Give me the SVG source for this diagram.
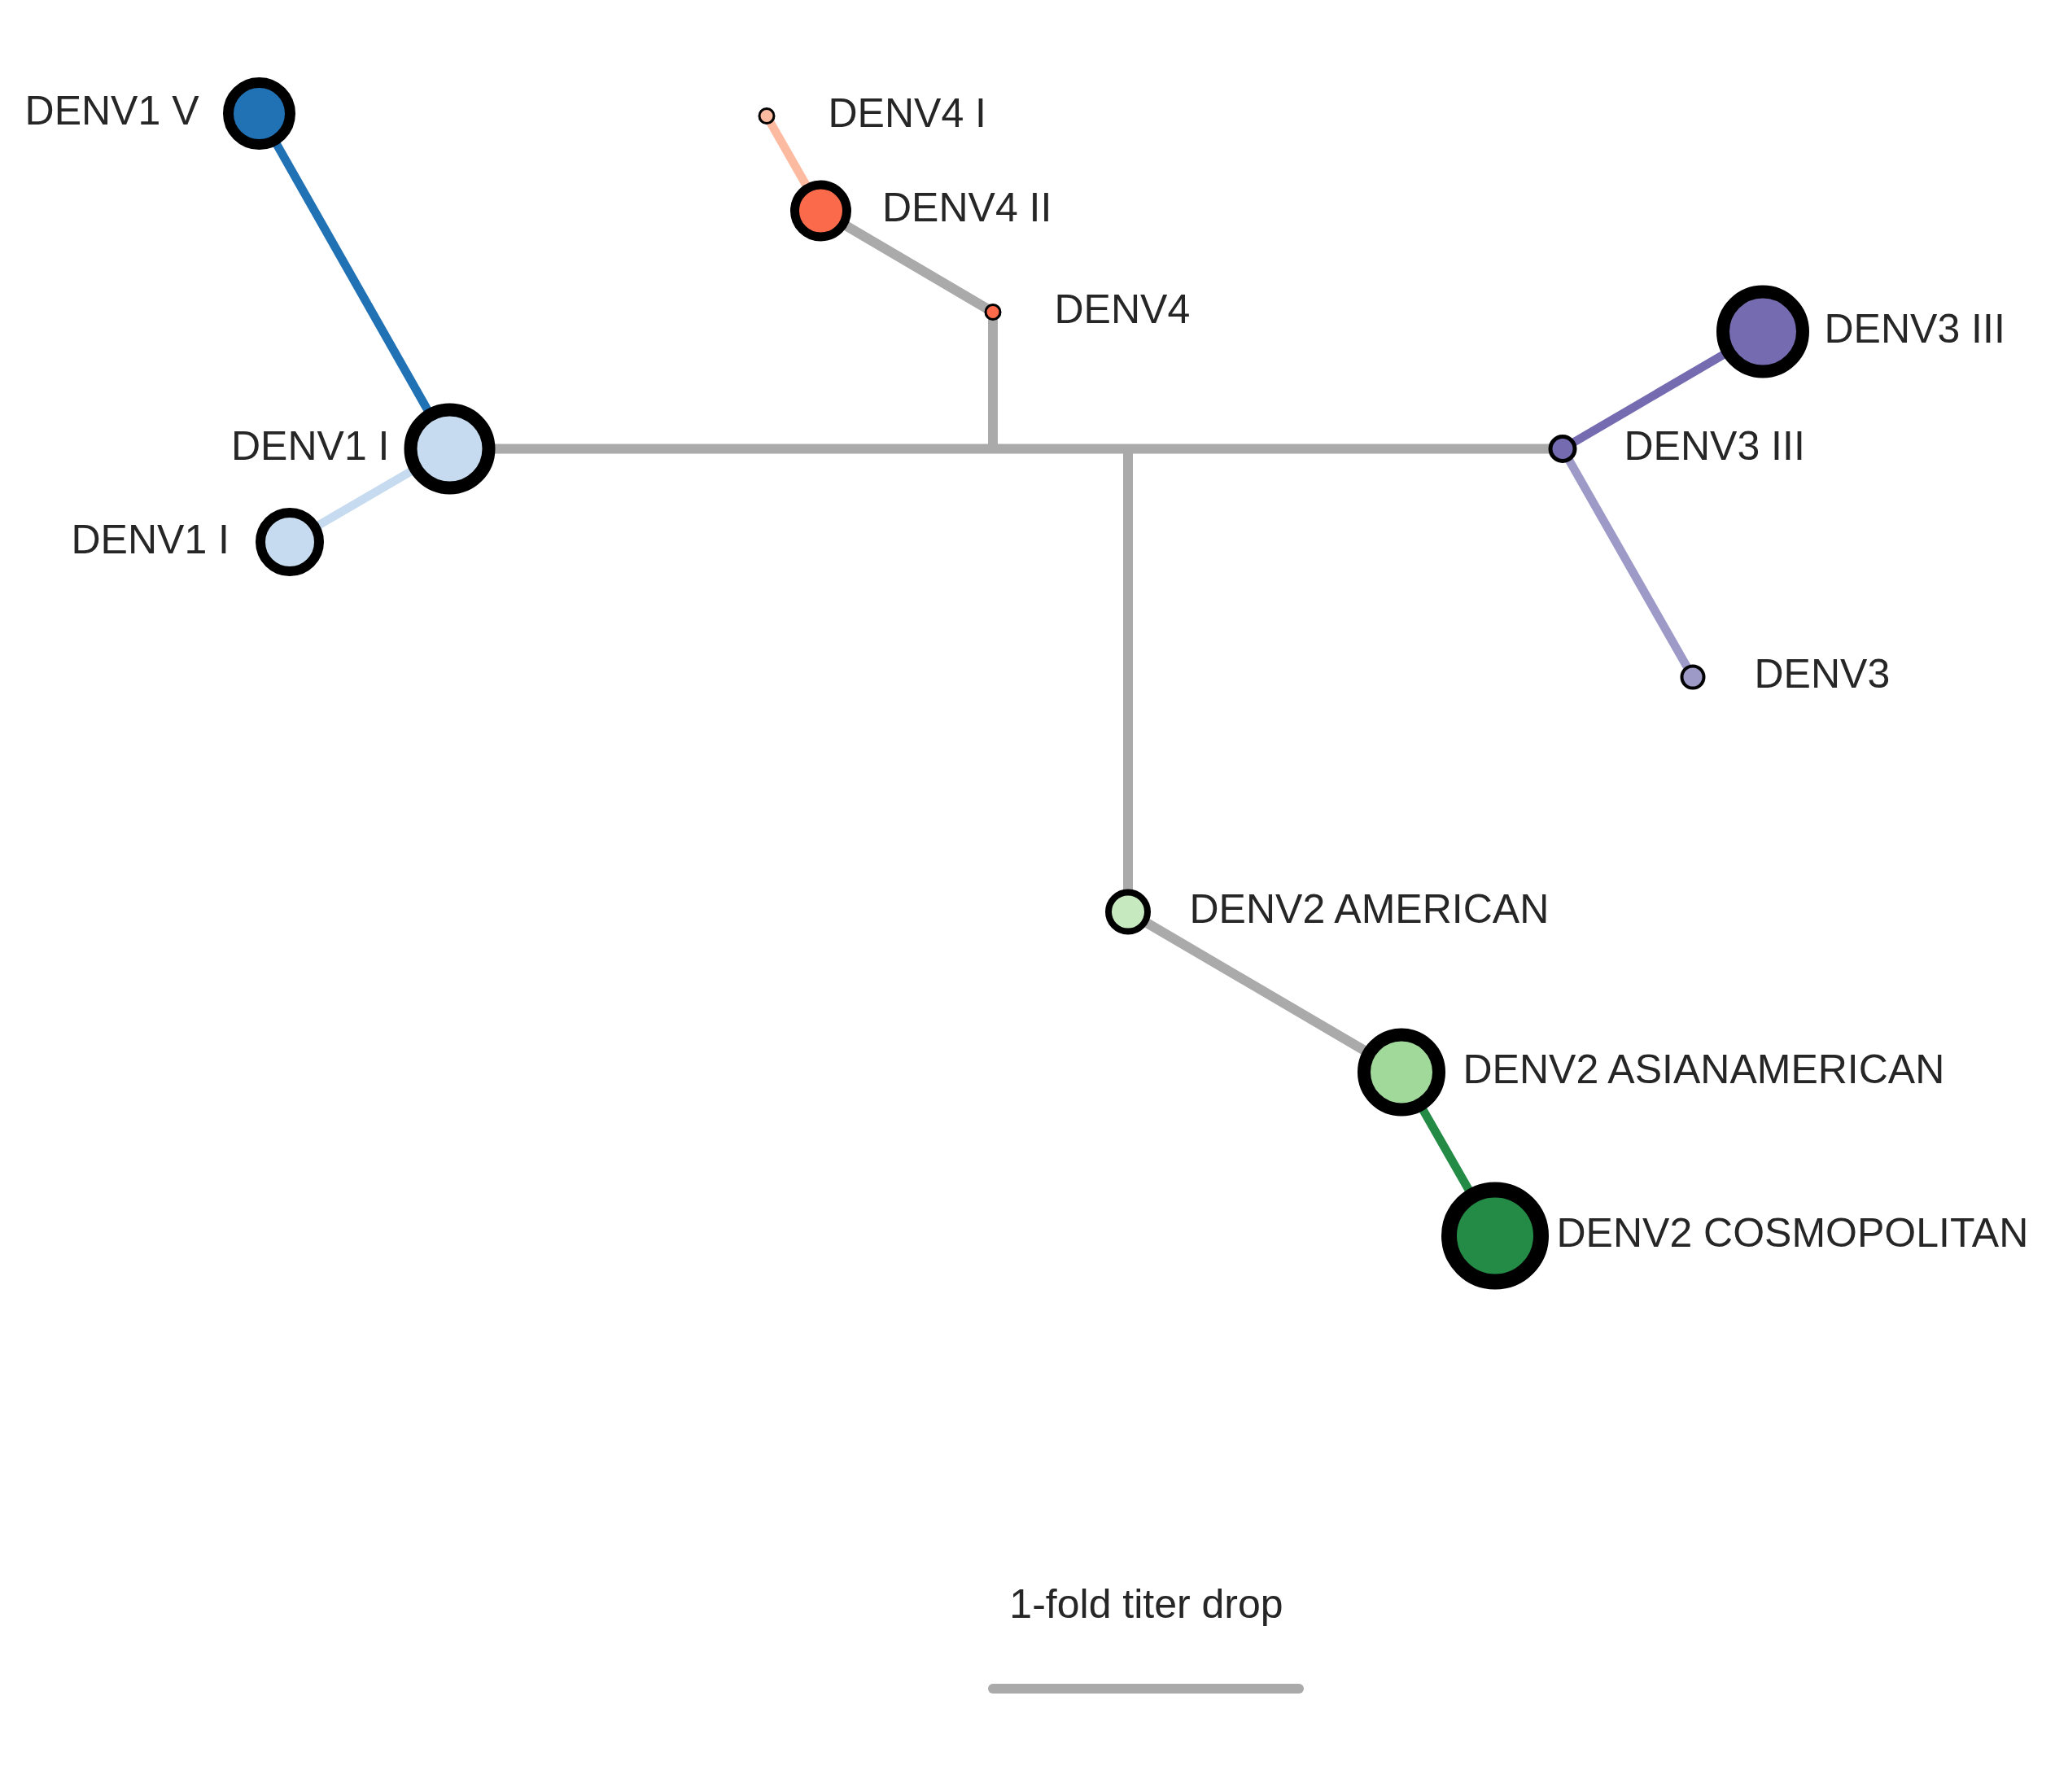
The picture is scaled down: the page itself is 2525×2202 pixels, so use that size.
<svg xmlns="http://www.w3.org/2000/svg" width="2525" height="2202" viewBox="0 0 2525 2202">
<style>
.lbl{font-family:"Liberation Sans",Arial,Helvetica,sans-serif;font-size:50px;fill:#262626}
.l{text-anchor:end}
.e{fill:none;stroke-width:10.5;stroke-linecap:butt}
.g{stroke:#aaaaaa;stroke-width:12}
.n{stroke:#000000}
</style>
<rect x="0" y="0" width="2525" height="2202" fill="#ffffff"/>
<g id="connectors">
<line class="e g" x1="552.5" y1="551.5" x2="1920" y2="551.5"/>
<line class="e g" x1="1220" y1="551.5" x2="1220" y2="383.5"/>
<line class="e g" x1="1220" y1="383.5" x2="1008.5" y2="259"/>
<line class="e" stroke="#fcbba1" x1="1008.5" y1="259" x2="942" y2="142.5"/>
<line class="e g" x1="1386" y1="551.5" x2="1386" y2="1120.5"/>
<line class="e g" x1="1386" y1="1120.5" x2="1722" y2="1317.5"/>
<line class="e" stroke="#238b45" x1="1722" y1="1317.5" x2="1837" y2="1518.5"/>
<line class="e" stroke="#2171b5" x1="552.5" y1="551.5" x2="318.5" y2="139.5"/>
<line class="e" stroke="#c6dbef" x1="552.5" y1="551.5" x2="356" y2="666"/>
<line class="e" stroke="#756bb1" x1="1920" y1="551.5" x2="2166" y2="407.5"/>
<line class="e" stroke="#9e9ac8" x1="1920" y1="551.5" x2="2080" y2="832"/>
</g>
<g id="node-denv1-v">
<circle class="n" cx="318.5" cy="139.5" r="38" stroke-width="13" fill="#2171b5"/>
<text class="lbl l" x="244.5" y="153">DENV1 V</text>
</g>
<g id="node-denv1-i-a">
<circle class="n" cx="552.5" cy="551.5" r="48" stroke-width="16" fill="#c6dbef"/>
<text class="lbl l" x="478.5" y="565">DENV1 I</text>
</g>
<g id="node-denv1-i-b">
<circle class="n" cx="356" cy="666" r="36" stroke-width="12" fill="#c6dbef"/>
<text class="lbl l" x="282" y="680">DENV1 I</text>
</g>
<g id="node-denv4-i">
<circle class="n" cx="942" cy="142.5" r="9" stroke-width="3" fill="#fcbba1"/>
<text class="lbl" x="1017.5" y="155.5">DENV4 I</text>
</g>
<g id="node-denv4-ii">
<circle class="n" cx="1008.5" cy="259" r="32" stroke-width="11" fill="#fb6a4a"/>
<text class="lbl" x="1084" y="272">DENV4 II</text>
</g>
<g id="node-denv4">
<circle class="n" cx="1220" cy="383.5" r="9" stroke-width="3" fill="#fb6a4a"/>
<text class="lbl" x="1295.5" y="396.5">DENV4</text>
</g>
<g id="node-denv3-iii-a">
<circle class="n" cx="1920" cy="551.5" r="15" stroke-width="5" fill="#756bb1"/>
<text class="lbl" x="1995.5" y="564.5">DENV3 III</text>
</g>
<g id="node-denv3-iii-b">
<circle class="n" cx="2166" cy="407.5" r="49" stroke-width="16" fill="#756bb1"/>
<text class="lbl" x="2241.5" y="420.5">DENV3 III</text>
</g>
<g id="node-denv3">
<circle class="n" cx="2080" cy="832" r="13.5" stroke-width="4" fill="#9e9ac8"/>
<text class="lbl" x="2155.5" y="845">DENV3</text>
</g>
<g id="node-denv2-american">
<circle class="n" cx="1386" cy="1120.5" r="24" stroke-width="8" fill="#c7e9c0"/>
<text class="lbl" x="1461.5" y="1133.5">DENV2 AMERICAN</text>
</g>
<g id="node-denv2-asianamerican">
<circle class="n" cx="1722" cy="1317.5" r="46" stroke-width="16" fill="#a1d99b"/>
<text class="lbl" x="1797.5" y="1330.5">DENV2 ASIANAMERICAN</text>
</g>
<g id="node-denv2-cosmopolitan">
<circle class="n" cx="1837" cy="1518.5" r="56.5" stroke-width="19" fill="#238b45"/>
<text class="lbl" x="1912.5" y="1531.5">DENV2 COSMOPOLITAN</text>
</g>
<g id="scale-bar">
<text class="lbl" x="1408.5" y="1988" text-anchor="middle">1-fold titer drop</text>
<line x1="1220" y1="2075" x2="1596" y2="2075" stroke="#aaaaaa" stroke-width="12" stroke-linecap="round"/>
</g>
</svg>
